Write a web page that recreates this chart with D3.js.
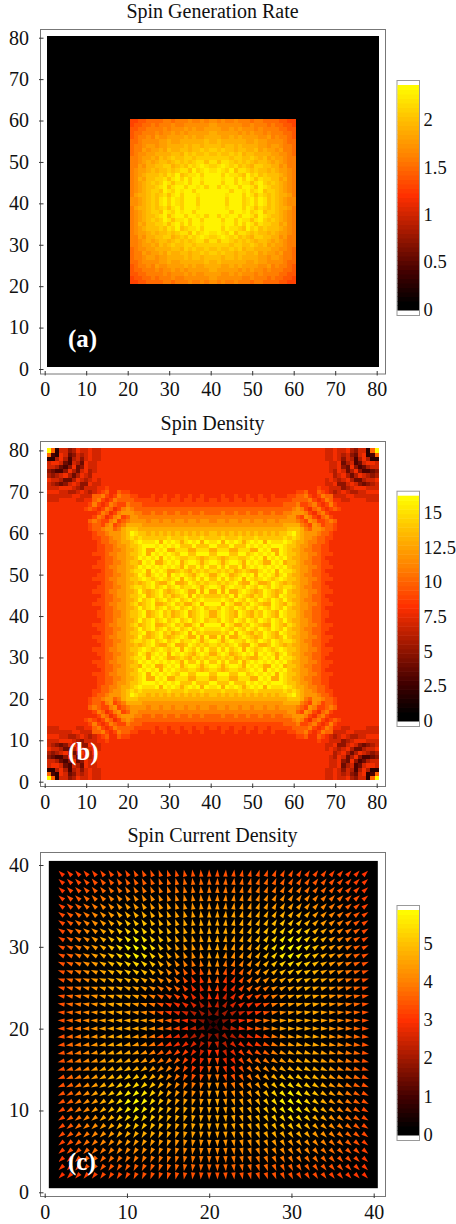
<!DOCTYPE html>
<html>
<head>
<meta charset="utf-8">
<script src="https://cdn.jsdelivr.net/npm/d3@7"></script>
<style>
  html, body { margin: 0; padding: 0; background: #fff; }
  svg { display: block; font-family: "Liberation Serif", serif; }
  .soft { filter: blur(0.5px); }
</style>
</head>
<body>
<div id="chart"></div>
<script>
// colour map shared by the three panels (fraction of the colour bar -> colour)
const mapStops = [0, 0.03, 0.17, 0.34, 0.51, 0.68, 0.85, 1];
const mapColors = ["#000000", "#000000", "#420000", "#a01800", "#ff3000", "#ff8000", "#ffc000", "#ffff00"];

const titles = ["Spin Generation Rate", "Spin Density", "Spin Current Density"];
const panelTags = ["(a)", "(b)", "(c)"];
const xTicksFine = [0, 10, 20, 30, 40, 50, 60, 70, 80];
const xTicksCoarse = [0, 10, 20, 30, 40];
const barTicksA = [0, 0.5, 1, 1.5, 2];
const barTicksB = [0, 2.5, 5, 7.5, 10, 12.5, 15];
const barTicksC = [0, 1, 2, 3, 4, 5];
const barMax = [2.37, 16.25, 5.88];

const genRows = [
  "00112222332333433434",
  "01122323334334444445",
  "11223333434445454455",
  "12233343445454555556",
  "12334354455556565566",
  "22344445565566666676",
  "23345545566667677677",
  "23354556576677677878",
  "23445566667768787787",
  "33455657678778878888",
  "33456567767878789979",
  "33546677886787989a98",
  "345567677878997a89a9",
  "34567778798a7899a8aa",
  "34657788979a8a8aa9aa",
  "34567878a9799a8aa8aa",
  "34567789a79aa8aa9a8a",
  "34567887a98a9aa8aaaa",
  "35667878979a8aaa9aaa",
  "44567879a8a98aaa8aaa"
];

// (b) density in whole units (base 36 digit), one triangle of the corner,
// the map looks the same across its diagonals and centre lines
const densityRows = [
  "g",
  "a3",
  "226",
  "7887",
  "77643",
  "543358",
  "6567864",
  "87764468",
  "765457875",
  "7778887657",
  "88877667876",
  "77777788777a",
  "77788887788ab",
  "8888888888" + "9b98",
  "888888888" + "9a989b",
  "8888888888" + "889ba8",
  "8888888888" + "89ba89b",
  "888888888" + "8aba99bc9",
  "8888888888" + "9aa9bc9ab",
  "8888888888" + "9aabccabde",
  "88888888888" + "9aabcccdeg",
  "88888888888" + "99aabccdefe",
  "888888888888" + "9aabbcddefg",
  "888888888888" + "99aabccdeefg",
  "8888888888" + "8899aabbcd" + "defgd",
  "8888888888" + "8999abbccd" + "eefgdg",
  "8888888888" + "8889aabccd" + "degfgfg",
  "8888888888" + "8899aabbcd" + "eedgfgdd",
  "8888888888" + "8999abbccd" + "degfgfgfg",
  "8888888888" + "8889aabccd" + "effgdgfgfd",
  "8888888888" + "8899aabbcd" + "degfdfgfgdg",
  "8888888888" + "8999abbccd" + "eefgfefgfefg",
  "8888888888" + "8889aabccd" + "dedefgeddfgdd",
  "8888888888" + "8899aabbcd" + "effefgefgefgef",
  "8888888888" + "8999abbccd" + "degedefgedefgfd",
  "8888888888" + "8889aabccd" + "eefgdefgefdefgdg",
  "8888888888" + "8899aabbcd" + "degefgefgefgefgef",
  "8888888888" + "8999abbccd" + "efdefgddefgefddfgd",
  "8888888888" + "8889aabccd" + "degefgefgefgefgefge",
  "8888888888" + "8899aabbcd" + "eefgdefgefdefgdefgfd"
];

// (c) current magnitude, one triangle of the corner
const currentSize = [
  [3.0],
  [3.1, 3.2],
  [3.1, 3.3, 3.4],
  [3.2, 3.4, 3.5, 3.7],
  [3.2, 3.4, 3.6, 3.8, 3.9],
  [3.3, 3.5, 3.7, 3.9, 4.1, 4.3],
  [3.3, 3.5, 3.8, 4.0, 4.2, 4.4, 4.6],
  [3.3, 3.6, 3.8, 4.1, 4.3, 4.6, 4.8, 5.1],
  [3.3, 3.6, 3.9, 4.1, 4.4, 4.7, 5.0, 5.2, 5.5],
  [3.4, 3.6, 3.9, 4.2, 4.4, 4.7, 5.0, 5.3, 5.7, 5.8],
  [3.4, 3.6, 3.9, 4.2, 4.5, 4.7, 5.0, 5.2, 5.5, 5.7, 5.5],
  [3.4, 3.6, 3.9, 4.2, 4.4, 4.7, 4.9, 5.1, 5.2, 5.3, 5.2, 5.0],
  [3.4, 3.7, 3.9, 4.2, 4.4, 4.6, 4.8, 4.9, 5.0, 5.0, 4.9, 4.7, 4.5],
  [3.4, 3.7, 3.9, 4.1, 4.4, 4.6, 4.7, 4.8, 4.8, 4.7, 4.6, 4.4, 4.2, 4.1],
  [3.4, 3.7, 3.9, 4.1, 4.3, 4.5, 4.6, 4.7, 4.6, 4.5, 4.4, 4.2, 3.9, 3.8, 3.7],
  [3.4, 3.7, 3.9, 4.1, 4.3, 4.5, 4.6, 4.6, 4.6, 4.5, 4.3, 4.0, 3.6, 3.4, 3.3, 3.2],
  [3.4, 3.7, 3.9, 4.1, 4.3, 4.5, 4.6, 4.6, 4.5, 4.4, 4.2, 3.9, 3.4, 3.1, 2.9, 2.8, 2.6],
  [3.4, 3.7, 3.9, 4.1, 4.3, 4.5, 4.6, 4.6, 4.5, 4.4, 4.2, 3.9, 3.4, 3.1, 2.8, 2.5, 2.2, 2.0],
  [3.4, 3.7, 3.9, 4.1, 4.3, 4.5, 4.6, 4.6, 4.6, 4.6, 4.5, 4.3, 3.9, 3.6, 3.3, 3.0, 2.4, 1.8, 1.0]
];

// (c) arrow tilt from the horizontal in degrees, same triangle
const currentTilt = [
  [45],
  [43, 45],
  [42, 43, 45],
  [40, 42, 43, 45],
  [38, 40, 41, 43, 45],
  [36, 38, 39, 41, 43, 45],
  [34, 36, 37, 39, 41, 43, 45],
  [32, 33, 35, 37, 38, 40, 43, 45],
  [30, 31, 32, 34, 36, 38, 40, 42, 45],
  [27, 28, 30, 32, 33, 35, 37, 40, 42, 45],
  [25, 26, 27, 29, 30, 32, 34, 36, 39, 42, 45],
  [22, 23, 24, 26, 27, 29, 31, 33, 36, 38, 41, 45],
  [19, 20, 21, 23, 24, 26, 27, 29, 32, 34, 37, 41, 45],
  [17, 17, 18, 20, 21, 22, 24, 26, 28, 30, 33, 36, 40, 45],
  [14, 14, 15, 16, 17, 18, 20, 21, 23, 25, 28, 31, 35, 39, 45],
  [11, 11, 12, 13, 14, 15, 16, 17, 18, 20, 22, 25, 28, 32, 38, 45],
  [8, 8, 9, 9, 10, 11, 11, 12, 13, 15, 16, 18, 21, 24, 29, 36, 45],
  [5, 5, 5, 6, 6, 6, 7, 7, 8, 9, 10, 11, 13, 15, 18, 23, 31, 45],
  [2, 2, 2, 2, 2, 2, 2, 2, 3, 3, 3, 4, 4, 5, 6, 8, 11, 18, 45]
];

const heatColor = d3.scaleLinear().domain(mapStops).range(mapColors).interpolate(d3.interpolateRgb);
const barBands = 50;

const svg = d3.select("#chart").append("svg").attr("width", 456).attr("height", 1224);

// Frame, ticks, title and colour bar for one panel
function drawFrame(p) {
  const g = svg.append("g");

  g.append("rect")
    .attr("x", 40.5).attr("y", p.frameTop)
    .attr("width", 345).attr("height", p.frameBottom - p.frameTop)
    .attr("fill", "#fff").attr("stroke", "#777").attr("stroke-width", 1);

  g.append("text")
    .attr("x", 212.5).attr("y", p.titleY)
    .attr("text-anchor", "middle")
    .attr("font-size", "20px").attr("fill", "#111")
    .text(p.title);

  const axisX = g.append("g")
    .attr("transform", `translate(0,${p.frameBottom})`)
    .call(d3.axisBottom(p.x).tickValues(p.xTicks).tickFormat(d3.format("d")).tickSize(0));
  axisX.select(".domain").remove();
  axisX.selectAll(".tick line").attr("y1", -3).attr("y2", 1.5).attr("stroke", "#333");
  axisX.selectAll(".tick text")
    .attr("y", 8).attr("dy", "0.71em")
    .attr("font-family", "Liberation Serif").attr("font-size", "20px").attr("fill", "#111");

  const axisY = g.append("g")
    .attr("transform", "translate(40.5,0)")
    .call(d3.axisLeft(p.y).tickValues(p.yTicks).tickFormat(d3.format("d")).tickSize(0));
  axisY.select(".domain").remove();
  axisY.selectAll(".tick line").attr("x1", -1.5).attr("x2", 3).attr("stroke", "#333");
  axisY.selectAll(".tick text")
    .attr("x", -11.5)
    .attr("font-family", "Liberation Serif").attr("font-size", "20px").attr("fill", "#111");

  // colour bar, a stack of flat bands
  const barY = d3.scaleLinear().domain([0, p.barMax]).range([p.barZero, p.barTop]);
  g.append("rect")
    .attr("x", 397).attr("y", p.barTop - 4.5)
    .attr("width", 22.5).attr("height", p.barZero - p.barTop + 10)
    .attr("fill", "#fff").attr("stroke", "#999");
  const bands = d3.range(barBands);
  g.append("g").attr("class", "soft").selectAll("rect")
    .data(bands)
    .enter().append("rect")
    .attr("x", 397.5).attr("width", 21.5)
    .attr("y", d => barY((d + 1) / barBands * p.barMax))
    .attr("height", (p.barZero - p.barTop) / barBands + 0.5)
    .attr("fill", d => heatColor((d + 0.5) / barBands));
  g.append("g").selectAll("text")
    .data(p.barTicks)
    .enter().append("text")
    .attr("x", 423.5).attr("y", d => barY(d)).attr("dy", "0.32em")
    .attr("font-size", "18.5px").attr("fill", "#111")
    .text(d => d);
}

function tagPanel(p) {
  svg.append("text")
    .attr("x", 68).attr("y", p.tagY)
    .attr("font-size", "25px").attr("font-weight", "bold").attr("fill", "#fff")
    .text(p.tag);
}

// ---- (a) Spin Generation Rate ----
const panelA = {
  title: titles[0], titleY: 18, tag: panelTags[0], tagY: 347,
  frameTop: 29.5, frameBottom: 374,
  x: d3.scaleLinear().domain([0, 80]).range([44.7, 376.7]),
  y: d3.scaleLinear().domain([0, 80]).range([369, 37.7]),
  xTicks: xTicksFine, yTicks: xTicksFine,
  barMax: barMax[0], barTicks: barTicksA, barZero: 310, barTop: 85
};
drawFrame(panelA);

function genValue(ix, iy) {
  if (ix < 21 || ix > 60 || iy < 21 || iy > 60) return 0;
  const c = ix <= 40 ? ix - 21 : 60 - ix;
  const r = iy <= 40 ? iy - 21 : 60 - iy;
  return 1.3 + parseInt(genRows[r][c], 36) * 0.1;
}

function densityValue(ix, iy) {
  const c = ix <= 40 ? ix - 1 : 80 - ix;
  const r = iy <= 40 ? iy - 1 : 80 - iy;
  return parseInt(densityRows[Math.max(r, c)][Math.min(r, c)], 36);
}

function drawHeat(p, valueAt) {
  const cells = [];
  d3.range(1, 81).forEach(iy => d3.range(1, 81).forEach(ix => {
    cells.push({ix, iy, v: valueAt(ix, iy)});
  }));
  svg.append("g").attr("class", "soft").selectAll("rect")
    .data(cells)
    .enter().append("rect")
    .attr("x", d => p.x(d.ix - 0.5))
    .attr("y", d => p.y(d.iy + 0.5))
    .attr("width", p.x(1) - p.x(0) + 0.3)
    .attr("height", p.y(0) - p.y(1) + 0.3)
    .attr("shape-rendering", "crispEdges")
    .attr("fill", d => heatColor(d.v / p.barMax));
}
drawHeat(panelA, genValue);
tagPanel(panelA);

// ---- (b) Spin Density ----
const panelB = {
  title: titles[1], titleY: 430, tag: panelTags[1], tagY: 760,
  frameTop: 441.5, frameBottom: 786.5,
  x: d3.scaleLinear().domain([0, 80]).range([44.7, 376.7]),
  y: d3.scaleLinear().domain([0, 80]).range([781.7, 450.4]),
  xTicks: xTicksFine, yTicks: xTicksFine,
  barMax: barMax[1], barTicks: barTicksB, barZero: 721, barTop: 495.7
};
drawFrame(panelB);
drawHeat(panelB, densityValue);
tagPanel(panelB);

// ---- (c) Spin Current Density ----
const panelC = {
  title: titles[2], titleY: 842, tag: panelTags[2], tagY: 1170,
  frameTop: 852.5, frameBottom: 1196.5,
  x: d3.scaleLinear().domain([0, 40]).range([44.7, 373.7]),
  y: d3.scaleLinear().domain([0, 40]).range([1192.3, 865]),
  xTicks: xTicksCoarse, yTicks: xTicksCoarse,
  barMax: barMax[2], barTicks: barTicksC, barZero: 1135, barTop: 910
};
drawFrame(panelC);

svg.append("rect")
  .attr("x", panelC.x(0.5)).attr("y", panelC.y(40.5))
  .attr("width", panelC.x(40.5) - panelC.x(0.5))
  .attr("height", panelC.y(0.5) - panelC.y(40.5))
  .attr("fill", "#000");

const arrows = [];
d3.range(2, 40).forEach(iy => d3.range(2, 40).forEach(ix => {
  const c = ix <= 20 ? ix - 2 : 39 - ix;
  const r = iy <= 20 ? iy - 2 : 39 - iy;
  const hi = Math.max(r, c), lo = Math.min(r, c);
  // tilt table is measured from the horizontal on the r >= c side
  const tilt = r >= c ? currentTilt[hi][lo] : 90 - currentTilt[hi][lo];
  arrows.push({
    ix, iy,
    v: currentSize[hi][lo],
    angle: Math.atan2((iy <= 20 ? -1 : 1) * Math.sin(tilt * Math.PI / 180),
                      (ix <= 20 ? -1 : 1) * Math.cos(tilt * Math.PI / 180)) * 180 / Math.PI
  });
}));

svg.append("g").attr("class", "soft").selectAll("path")
  .data(arrows)
  .enter().append("path")
  .attr("d", "M3.6,0L-3.4,-2.2L-3.4,2.2Z")
  .attr("transform", d => `translate(${panelC.x(d.ix)},${panelC.y(d.iy)}) rotate(${-d.angle})`)
  .attr("fill", d => heatColor(d.v / panelC.barMax));
tagPanel(panelC);
</script>
</body>
</html>
